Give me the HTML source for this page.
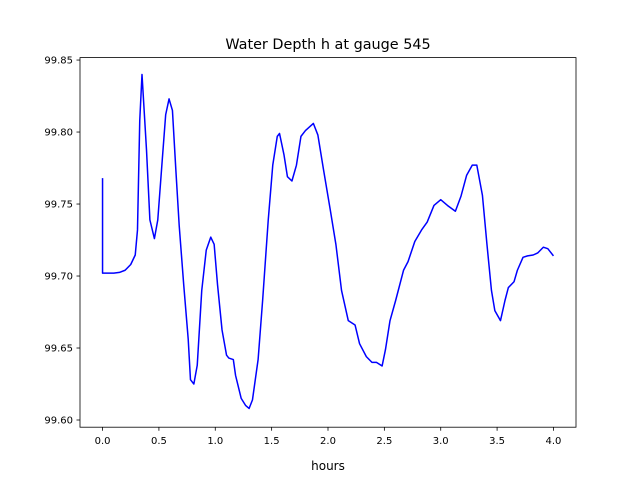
<!DOCTYPE html>
<html><head><meta charset="utf-8"><style>
body{margin:0;background:#fff;}
svg text{font-family:"DejaVu Sans","Liberation Sans",sans-serif;fill:#000;}
</style></head><body>
<svg id="chart" width="640" height="480" xmlns="http://www.w3.org/2000/svg">
<rect width="640" height="480" fill="#fff"/>
<text x="328" y="49" font-size="14.4" text-anchor="middle">Water Depth h at gauge 545</text>
<g id="plot"></g>
<rect x="80" y="57.6" width="496" height="369.6" fill="none" stroke="#000" stroke-width="0.8"/>
<text x="328" y="470" font-size="12" text-anchor="middle">hours</text>
</svg>
<script>
const times=[0,0,0.1,0.15,0.2,0.25,0.29,0.31,0.33,0.35,0.39,0.42,0.46,0.49,0.53,0.56,0.59,0.62,0.65,0.68,0.72,0.76,0.78,0.81,0.84,0.88,0.92,0.96,0.99,1.02,1.06,1.10,1.12,1.16,1.18,1.23,1.27,1.30,1.33,1.38,1.42,1.47,1.51,1.55,1.57,1.61,1.64,1.68,1.72,1.76,1.80,1.87,1.91,1.96,2.02,2.07,2.12,2.18,2.24,2.28,2.34,2.39,2.43,2.48,2.51,2.55,2.60,2.67,2.71,2.77,2.83,2.88,2.94,3.00,3.06,3.13,3.18,3.23,3.28,3.32,3.37,3.41,3.45,3.48,3.53,3.57,3.60,3.65,3.68,3.73,3.77,3.82,3.86,3.91,3.95,4.00];
const depths=[99.768,99.702,99.702,99.7025,99.704,99.708,99.7146,99.732,99.808,99.840,99.7875,99.739,99.726,99.739,99.781,99.812,99.823,99.815,99.774,99.735,99.694,99.656,99.628,99.625,99.638,99.690,99.718,99.727,99.722,99.694,99.6625,99.645,99.643,99.642,99.631,99.615,99.610,99.608,99.614,99.642,99.683,99.739,99.777,99.797,99.799,99.784,99.769,99.766,99.777,99.797,99.801,99.806,99.798,99.774,99.746,99.722,99.690,99.669,99.666,99.653,99.644,99.640,99.640,99.6375,99.649,99.669,99.683,99.704,99.710,99.724,99.732,99.7375,99.749,99.753,99.749,99.745,99.7555,99.770,99.777,99.777,99.756,99.722,99.690,99.676,99.669,99.683,99.692,99.696,99.704,99.713,99.714,99.7146,99.716,99.720,99.719,99.714];
const xTicks=[0,0.5,1,1.5,2,2.5,3,3.5,4];
const xTickLabels=["0.0","0.5","1.0","1.5","2.0","2.5","3.0","3.5","4.0"];
const yTicks=[99.60,99.65,99.70,99.75,99.80,99.85];
const yTickLabels=["99.60","99.65","99.70","99.75","99.80","99.85"];
const L=80,R=576,T=57.6,B=427.2;
const xMin=-0.2,xMax=4.2,yMin=99.595,yMax=99.8517;
const xs=v=>L+(v-xMin)/(xMax-xMin)*(R-L);
const ys=v=>B-(v-yMin)/(yMax-yMin)*(B-T);
const NS="http://www.w3.org/2000/svg";
const g=document.getElementById('plot');
function mk(t,a){const e=document.createElementNS(NS,t);for(const k in a)e.setAttribute(k,a[k]);return e;}
const line=mk('polyline',{points:times.map((t,i)=>xs(t).toFixed(2)+','+ys(depths[i]).toFixed(2)).join(' '),fill:'none',stroke:'#0000ff','stroke-width':1.5,'stroke-linejoin':'round'});


g.appendChild(line);
xTicks.forEach((v,i)=>{
 const tk=mk('line',{x1:xs(v),x2:xs(v),y1:B,y2:B+3.5,stroke:'#000','stroke-width':0.8});
 
 
 g.appendChild(tk);
 const tx=mk('text',{x:xs(v),y:B+17,'font-size':10,'text-anchor':'middle'});
 
 
 tx.textContent=xTickLabels[i];g.appendChild(tx);
});
yTicks.forEach((v,i)=>{
 const tk=mk('line',{x1:L-3.5,x2:L,y1:ys(v),y2:ys(v),stroke:'#000','stroke-width':0.8});
 
 
 g.appendChild(tk);
 const tx=mk('text',{x:L-7,y:ys(v)+3.5,'font-size':10,'text-anchor':'end'});
 
 
 tx.textContent=yTickLabels[i];g.appendChild(tx);
});
</script>
</body></html>
